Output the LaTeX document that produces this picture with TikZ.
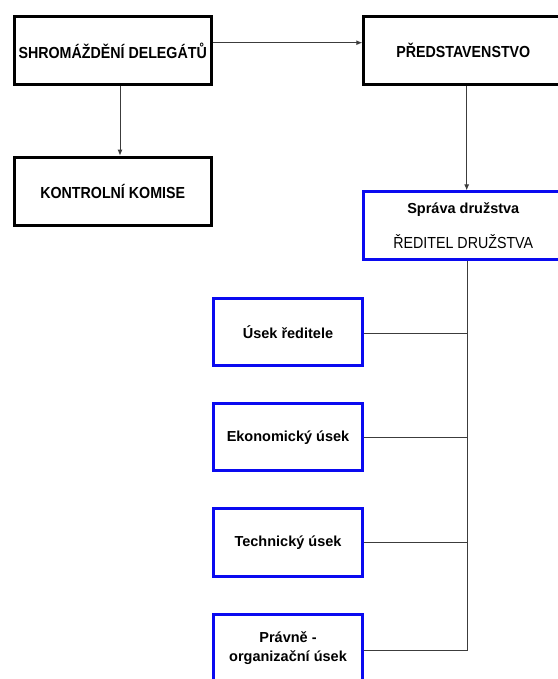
\documentclass[tikz,border=0pt]{standalone}
\usepackage{fontspec}
\setmainfont{Liberation Sans}
\newfontfamily\capsfont[FakeStretch=0.89]{Liberation Sans}
\usetikzlibrary{arrows.meta}
\definecolor{boxblue}{RGB}{10,10,240}
\definecolor{conn}{RGB}{60,60,60}
\tikzset{
  blackbox/.style={draw=black, line width=3pt, inner sep=0pt, align=center,
    minimum width=197pt, minimum height=68pt},
  bluebox/.style={draw=boxblue, line width=3pt, inner sep=0pt, align=center,
    minimum height=67.5pt},
  capstext/.style={font=\capsfont\bfseries\fontsize{16}{19}\selectfont},
  lowtext/.style={font=\bfseries\fontsize{14.5}{19}\selectfont},
  conline/.style={draw=conn, line width=1pt},
  conarrow/.style={conline, -{Latex[length=6pt,width=5pt]}}
}
\begin{document}
\begin{tikzpicture}[x=1pt,y=-1pt]
\useasboundingbox (0,0) rectangle (557,679);
\node[blackbox, capstext] (sd) at (112.7,50.5) {SHROMÁŽDĚNÍ DELEGÁTŮ};
\node[blackbox, capstext] (kk) at (112.7,191.2) {KONTROLNÍ KOMISE};
\node[blackbox, capstext, minimum width=199pt] (pr) at (463.3,50.5) {PŘEDSTAVENSTVO};
\node[bluebox, minimum width=199pt, font=\fontsize{14.5}{35}\selectfont] (sp) at (463.3,225.7)
  {\bfseries Správa družstva\\{\capsfont\fontsize{16}{35}\selectfont ŘEDITEL DRUŽSTVA}};
\node[bluebox, lowtext, minimum width=149pt] (u1) at (288,332) {Úsek ředitele};
\node[bluebox, lowtext, minimum width=149pt] (u2) at (288,437.2) {Ekonomický úsek};
\node[bluebox, lowtext, minimum width=149pt] (u3) at (288,542.5) {Technický úsek};
\node[bluebox, lowtext, minimum width=149pt] (u4) at (288,648) {Právně -\\organizační úsek};
\coordinate (bus) at (467.5,650);
\draw[conarrow] ([yshift=7.8pt]sd.east) -- ([yshift=7.8pt]pr.west);
\draw[conarrow] ([xshift=7.3pt]sd.south) -- ([xshift=7.3pt]kk.north);
\draw[conarrow] ([xshift=3.4pt]pr.south) -- ([xshift=3.4pt]sp.north);
\draw[conline] (sp.south -| bus) -- (bus);
\draw[conline] ([yshift=-1pt]u1.east) -- ([yshift=-1pt]u1.east -| bus);
\draw[conline] (u2.east) -- (u2.east -| bus);
\draw[conline] (u3.east) -- (u3.east -| bus);
\draw[conline] (u4.east |- bus) -- (bus);
\end{tikzpicture}
\end{document}
